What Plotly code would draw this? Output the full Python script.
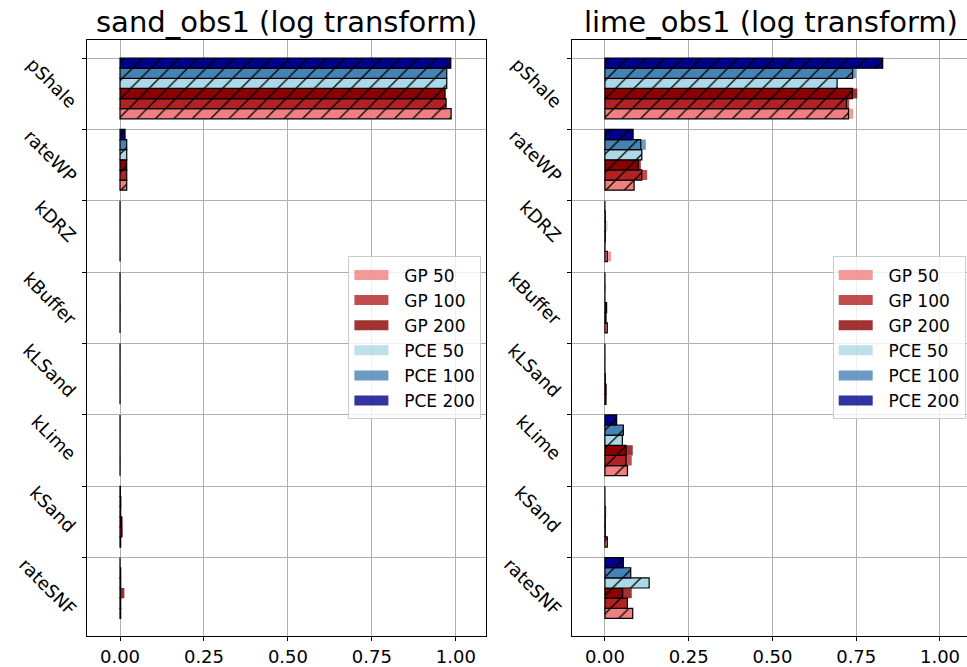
import plotly.graph_objects as go

# ---------------- data ----------------
CATEGORIES = ["pShale", "rateWP", "kDRZ", "kBuffer", "kLSand", "kLime", "kSand", "rateSNF"]
SERIES = ["GP 50", "GP 100", "GP 200", "PCE 50", "PCE 100", "PCE 200"]
X_TICKS = [0.0, 0.25, 0.5, 0.75, 1.0]
X_TICK_LABELS = ["0.00", "0.25", "0.50", "0.75", "1.00"]
TITLES = ["sand_obs1 (log transform)", "lime_obs1 (log transform)"]

# first-order indices (hatched, black edge)
sand_first = {
    "GP 50":   [0.986, 0.020, 0.000, 0.000, 0.000, 0.000, 0.002, 0.002],
    "GP 100":  [0.971, 0.020, 0.000, 0.000, 0.000, 0.000, 0.005, 0.002],
    "GP 200":  [0.968, 0.020, 0.000, 0.000, 0.000, 0.000, 0.004, 0.002],
    "PCE 50":  [0.973, 0.020, 0.000, 0.000, 0.000, 0.000, 0.002, 0.002],
    "PCE 100": [0.973, 0.020, 0.000, 0.000, 0.000, 0.000, 0.002, 0.002],
    "PCE 200": [0.985, 0.015, 0.000, 0.000, 0.000, 0.000, 0.001, 0.000],
}
# total-order indices (translucent, no edge)
sand_total = {
    "GP 50":   [0.986, 0.020, 0.001, 0.000, 0.000, 0.000, 0.003, 0.002],
    "GP 100":  [0.971, 0.020, 0.000, 0.000, 0.000, 0.001, 0.008, 0.002],
    "GP 200":  [0.968, 0.020, 0.000, 0.001, 0.000, 0.000, 0.008, 0.013],
    "PCE 50":  [0.973, 0.020, 0.001, 0.000, 0.001, 0.000, 0.003, 0.002],
    "PCE 100": [0.973, 0.020, 0.000, 0.000, 0.000, 0.000, 0.004, 0.002],
    "PCE 200": [0.985, 0.015, 0.000, 0.000, 0.000, 0.000, 0.002, 0.000],
}
lime_first = {
    "GP 50":   [0.727, 0.087, 0.007, 0.007, 0.003, 0.067, 0.007, 0.083],
    "GP 100":  [0.721, 0.110, 0.000, 0.003, 0.003, 0.063, 0.001, 0.067],
    "GP 200":  [0.739, 0.099, 0.001, 0.005, 0.001, 0.063, 0.001, 0.053],
    "PCE 50":  [0.693, 0.110, 0.001, 0.000, 0.000, 0.052, 0.001, 0.132],
    "PCE 100": [0.739, 0.107, 0.001, 0.000, 0.000, 0.055, 0.000, 0.077],
    "PCE 200": [0.829, 0.084, 0.000, 0.000, 0.000, 0.035, 0.000, 0.055],
}
lime_total = {
    "GP 50":   [0.741, 0.088, 0.018, 0.008, 0.004, 0.070, 0.008, 0.083],
    "GP 100":  [0.729, 0.126, 0.001, 0.004, 0.005, 0.080, 0.002, 0.069],
    "GP 200":  [0.753, 0.107, 0.002, 0.006, 0.002, 0.083, 0.001, 0.080],
    "PCE 50":  [0.693, 0.112, 0.008, 0.001, 0.001, 0.052, 0.005, 0.132],
    "PCE 100": [0.749, 0.122, 0.002, 0.002, 0.001, 0.055, 0.001, 0.077],
    "PCE 200": [0.829, 0.084, 0.000, 0.000, 0.000, 0.035, 0.000, 0.055],
}

# ---------------- style ----------------
W, H = 967, 667
FONT = "DejaVu Sans"
COLORS = {
    "GP 50": (240, 128, 128),
    "GP 100": (178, 34, 34),
    "GP 200": (139, 0, 0),
    "PCE 50": (173, 216, 230),
    "PCE 100": (70, 130, 180),
    "PCE 200": (0, 0, 139),
}
SLOT = {"PCE 200": 0, "PCE 100": 1, "PCE 50": 2, "GP 200": 3, "GP 100": 4, "GP 50": 5}
BAR_H = 0.142
GRID = "#b0b0b0"
LEGEND_PAD = "\u00a0\u00a0"


def px(sx):
    return sx / W


def py(sy):
    return 1 - sy / H


def rgba(c, a):
    return "rgba(%d,%d,%d,%g)" % (c[0], c[1], c[2], a)


fig = go.Figure()

panels = [
    (sand_first, sand_total, "x", "y", "legend"),
    (lime_first, lime_total, "x2", "y2", "legend2"),
]

for first, total, xa, ya, leg in panels:
    for s in SERIES:
        ypos = [i + (SLOT[s] + 0.5) * BAR_H for i in range(len(CATEGORIES))]
        fig.add_trace(go.Bar(
            x=total[s], y=ypos, orientation="h", width=BAR_H,
            marker=dict(color=rgba(COLORS[s], 0.8), line=dict(width=0)),
            xaxis=xa, yaxis=ya, showlegend=False, name=s + " total",
        ))
    for s in SERIES:
        ypos = [i + (SLOT[s] + 0.5) * BAR_H for i in range(len(CATEGORIES))]
        col = rgba(COLORS[s], 1)
        fig.add_trace(go.Bar(
            x=first[s], y=ypos, orientation="h", width=BAR_H,
            marker=dict(color=col, line=dict(color="black", width=1.2),
                        pattern=dict(shape="/", fgcolor="black", bgcolor=col,
                                     size=13, solidity=0.1, fillmode="replace")),
            xaxis=xa, yaxis=ya, showlegend=False, name=s + " first",
        ))
    for s in SERIES:
        fig.add_trace(go.Scatter(
            x=[None], y=[None], mode="lines", name=LEGEND_PAD + s,
            line=dict(color=rgba(COLORS[s], 0.8), width=10),
            xaxis=xa, yaxis=ya, legend=leg, showlegend=True,
        ))

y_dom = [py(639), py(40)]
x1_dom = [px(87.3), px(485.7)]
x2_dom = [px(572.3), 1.0]

common_x = dict(
    tickvals=X_TICKS, ticktext=X_TICK_LABELS, showgrid=True, gridcolor=GRID,
    gridwidth=1, showline=True, linecolor="black", linewidth=1, mirror=True,
    ticks="outside", ticklen=4, tickcolor="black", tickwidth=1,
    tickfont=dict(size=18, color="black", family=FONT), zeroline=False,
    layer="above traces",
)
common_y = dict(
    tickvals=list(range(len(CATEGORIES))), showticklabels=False, showgrid=True,
    gridcolor=GRID, gridwidth=1, showline=True, linecolor="black", linewidth=1,
    ticks="outside", ticklen=4, tickcolor="black", tickwidth=1, zeroline=False,
    range=[8.10, -0.255], domain=y_dom, layer="above traces",
)

legend_style = dict(
    xanchor="right", y=py(339.5), yanchor="middle",
    bgcolor="rgba(255,255,255,0.8)", bordercolor="#cccccc", borderwidth=1,
    font=dict(size=17, family=FONT, color="black"), itemwidth=34,
)

fig.update_layout(
    width=W, height=H,
    margin=dict(l=0, r=0, t=0, b=0),
    paper_bgcolor="white", plot_bgcolor="white",
    font=dict(family=FONT, color="black"),
    barmode="overlay",
    xaxis=dict(domain=x1_dom, range=[-0.0974, 1.089], anchor="y", **common_x),
    yaxis=dict(anchor="x", mirror=True, **common_y),
    xaxis2=dict(domain=x2_dom, range=[-0.0974, 1.0806], anchor="y2", **common_x),
    yaxis2=dict(anchor="x2", mirror=False, **common_y),
    legend=dict(x=px(481.4), **legend_style),
    legend2=dict(x=px(965.7), **legend_style),
    showlegend=True,
)

annotations = []
for dom, yref in [(x1_dom, "y"), (x2_dom, "y2")]:
    for i, cat in enumerate(CATEGORIES):
        annotations.append(dict(
            text=cat, xref="paper", x=dom[0], xshift=-4, xanchor="right",
            yref=yref, y=i, yanchor="top", yshift=7, textangle=45, showarrow=False,
            font=dict(size=18, family=FONT, color="black"),
        ))
for cx, title in [(px((87.3 + 485.7) / 2), TITLES[0]), (px((572.3 + 970) / 2), TITLES[1])]:
    annotations.append(dict(
        text=title, xref="paper", x=cx, xanchor="center",
        yref="paper", y=py(40), yanchor="bottom", yshift=-1, showarrow=False,
        font=dict(size=29, family=FONT, color="black"),
    ))
fig.update_layout(annotations=annotations)

# remove the default page margin so the figure sits at the window's corner
fig.write_html(
    "out.html",
    config={"displayModeBar": False},
    post_script="document.body.style.margin='0';document.body.style.padding='0';",
)
